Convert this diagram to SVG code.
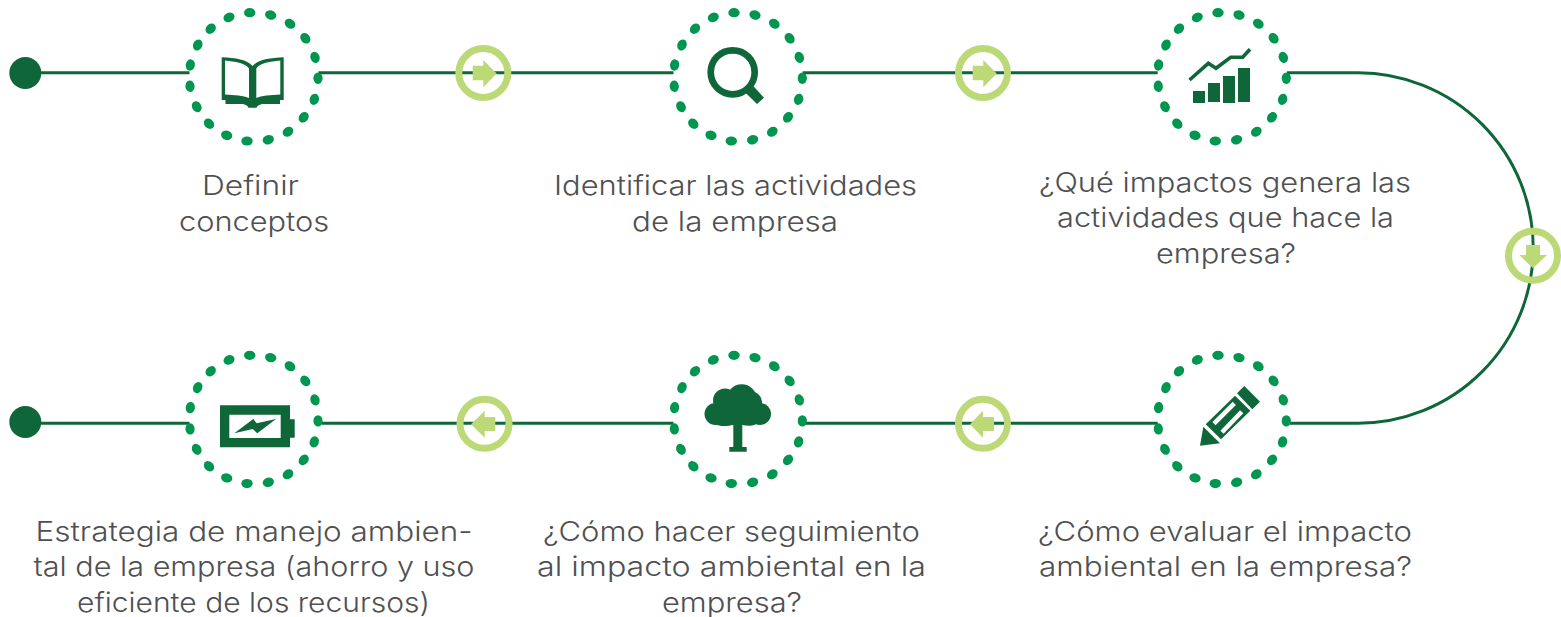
<svg xmlns="http://www.w3.org/2000/svg" width="1561" height="617" viewBox="0 0 1561 617">
<style>
.line{fill:none;stroke:#0f6639;stroke-width:3}
.ring{fill:none;stroke:#bcd977;stroke-width:7}
.arrow{fill:#bcd977}
.dark{fill:#0f6639}
.dot{fill:#009650}
.t{font-family:"Inter","Liberation Sans",sans-serif;font-weight:300;font-size:27.5px;fill:#4f5052;text-anchor:middle}
</style>
<defs>
<g id="dots">
<ellipse class="dot" cx="-4.3" cy="-64.3" rx="5.7" ry="4.6"/>
<ellipse class="dot" cx="16.7" cy="-62" rx="5.7" ry="4.6" transform="rotate(15 16.7 -62)"/>
<ellipse class="dot" cx="36" cy="-53.3" rx="5.7" ry="4.6" transform="rotate(35 36 -53.3)"/>
<ellipse class="dot" cx="51.3" cy="-38.7" rx="5.7" ry="4.6" transform="rotate(50 51.3 -38.7)"/>
<ellipse class="dot" cx="61" cy="-19.7" rx="5.7" ry="4.6" transform="rotate(70 61 -19.7)"/>
<ellipse class="dot" cx="64" cy="1.3" rx="5.7" ry="4.6" transform="rotate(90 64 1.3)"/>
<ellipse class="dot" cx="60.3" cy="22.3" rx="5.7" ry="4.6" transform="rotate(107 60.3 22.3)"/>
<ellipse class="dot" cx="49.7" cy="40.3" rx="5.7" ry="4.6" transform="rotate(130 49.7 40.3)"/>
<ellipse class="dot" cx="34" cy="54.7" rx="5.7" ry="4.6" transform="rotate(145 34 54.7)"/>
<ellipse class="dot" cx="14.3" cy="62.7" rx="5.7" ry="4.6" transform="rotate(165 14.3 62.7)"/>
<ellipse class="dot" cx="-7" cy="64" rx="5.7" ry="4.6"/>
<ellipse class="dot" cx="-27.3" cy="58.3" rx="5.7" ry="4.6" transform="rotate(15 -27.3 58.3)"/>
<ellipse class="dot" cx="-45" cy="46.7" rx="5.7" ry="4.6" transform="rotate(45 -45 46.7)"/>
<ellipse class="dot" cx="-57.3" cy="29.7" rx="5.7" ry="4.6" transform="rotate(60 -57.3 29.7)"/>
<ellipse class="dot" cx="-64" cy="9.3" rx="5.7" ry="4.6" transform="rotate(85 -64 9.3)"/>
<ellipse class="dot" cx="-63.7" cy="-12" rx="5.7" ry="4.6" transform="rotate(100 -63.7 -12)"/>
<ellipse class="dot" cx="-56.3" cy="-32" rx="5.7" ry="4.6" transform="rotate(115 -56.3 -32)"/>
<ellipse class="dot" cx="-43.3" cy="-48.3" rx="5.7" ry="4.6" transform="rotate(135 -43.3 -48.3)"/>
<ellipse class="dot" cx="-25" cy="-59.7" rx="5.7" ry="4.6" transform="rotate(155 -25 -59.7)"/>
</g>
</defs>
<g id="connectors">
<path class="line" d="M40 72.7H189.5M318.5 72.7H673.5M802.7 72.7H1157.7M1287 72.7H1358A175.3 175.3 0 0 1 1358 423.3H1290M1157.7 423.3H804M673.5 423.3H321.5M189.5 423.3H40"/>
<g id="arrow-1"><circle class="ring" cx="483.3" cy="73" r="24.5"/><path class="arrow" d="M472.7 65.7H483.3V60L496.7 73.5L483.3 87.3V80.3H472.7Z"/></g>
<g id="arrow-2"><circle class="ring" cx="983" cy="73" r="24.5"/><path class="arrow" d="M972.7 65.7H983.3V60L996.7 73.5L983.3 87.3V80.3H972.7Z"/></g>
<g id="arrow-3"><circle class="ring" cx="1533" cy="255.7" r="24.5"/><path class="arrow" d="M1526 245H1540V255H1547L1533 268.3L1519.3 255H1526Z"/></g>
<g id="arrow-4"><circle class="ring" cx="983" cy="423.8" r="24.5"/><path class="arrow" d="M994 417H983V410.7L970 424.2L983 437.7V431H994Z"/></g>
<g id="arrow-5"><circle class="ring" cx="484.5" cy="423.8" r="24.5"/><path class="arrow" d="M495.3 417H484.7V410.7L471 424.2L484.7 437.7V431H495.3Z"/></g>
</g>
<g id="start-top"><circle class="dark" cx="25.3" cy="73" r="16"/></g>
<g id="start-bottom"><circle class="dark" cx="25.3" cy="422" r="16"/></g>
<g id="node-1">
<use href="#dots" transform="translate(254 77)"/>
<path class="dark" d="M221.7 57.3C236 58 247 59.5 252.5 66C258 59.5 270 58 283.7 57.3V100H280V104H262C259 105 257 106 256.5 107.7H248.5C248 106 246 105 243 104H225.5V100H221.7ZM225 60.5V94.5C234 95 244 95.5 249 98V68.5C245 63 235 61.5 225 60.5ZM280.3 60.5C270 61.5 260 63 256.3 68.5V98C261 95.5 271 95 280.3 94.5Z" fill-rule="evenodd"/>
<text class="t" x="250.5" y="195" textLength="97" lengthAdjust="spacingAndGlyphs">Definir</text>
<text class="t" x="254" y="231" textLength="150" lengthAdjust="spacingAndGlyphs">conceptos</text>
</g>
<g id="node-2">
<use href="#dots" transform="translate(738.3 77)"/>
<circle cx="732.7" cy="72.3" r="22" fill="none" stroke="#0f6639" stroke-width="6.7"/>
<path class="dark" d="M753.3 86L764 97.7L757 104L746 93.3Z"/>
<text class="t" x="735.5" y="195" textLength="363" lengthAdjust="spacingAndGlyphs">Identificar las actividades</text>
<text class="t" x="735" y="231" textLength="206" lengthAdjust="spacingAndGlyphs">de la empresa</text>
</g>
<g id="node-3">
<use href="#dots" transform="translate(1222.3 77)"/>
<path d="M1189.5 80L1208.3 63.3L1216 68.3L1230.7 57.3H1242.7L1250 49.3" fill="none" stroke="#0f6639" stroke-width="3.6"/>
<path class="dark" d="M1193 91H1205V103H1193ZM1208 83H1220V102H1208ZM1223 76H1235V103H1223ZM1238 68H1250V102H1238Z"/>
<text class="t" x="1225" y="192" textLength="372" lengthAdjust="spacingAndGlyphs">¿Qué impactos genera las</text>
<text class="t" x="1225.5" y="227" textLength="337" lengthAdjust="spacingAndGlyphs">actividades que hace la</text>
<text class="t" x="1226" y="263" textLength="140" lengthAdjust="spacingAndGlyphs">empresa?</text>
</g>
<g id="node-4">
<use href="#dots" transform="translate(1222.3 419.6)"/>
<path class="dark" d="M1200 445.7L1203.3 426.7L1220 443.3ZM1237 393.3L1244.3 386L1260 401.7L1252.3 409.3ZM1205.7 424.3L1235 395.7L1250.3 410.7L1221 439.3Z"/>
<path d="M1214 423.7L1234.3 403.3M1222 432.3L1241.7 411.7" fill="none" stroke="#fff" stroke-width="4.5"/>
<text class="t" x="1225" y="541" textLength="374" lengthAdjust="spacingAndGlyphs">¿Cómo evaluar el impacto</text>
<text class="t" x="1225.5" y="576" textLength="373" lengthAdjust="spacingAndGlyphs">ambiental en la empresa?</text>
</g>
<g id="node-5">
<use href="#dots" transform="translate(738.3 419.6)"/>
<circle class="dark" cx="715.5" cy="414" r="11"/>
<circle class="dark" cx="760" cy="414" r="11"/>
<circle class="dark" cx="725" cy="400.5" r="12"/>
<circle class="dark" cx="741.7" cy="399.5" r="15.2"/>
<circle class="dark" cx="750" cy="403" r="12"/>
<path class="dark" d="M715 405H760V420.5C755 427 748 426 742.3 425V447H746.7V451.7H729.3V447H733.3V425C728 426 720 427 715 424Z"/>
<text class="t" x="731.5" y="541" textLength="377" lengthAdjust="spacingAndGlyphs">¿Cómo hacer seguimiento</text>
<text class="t" x="731.5" y="576" textLength="389" lengthAdjust="spacingAndGlyphs">al impacto ambiental en la</text>
<text class="t" x="732" y="612" textLength="140" lengthAdjust="spacingAndGlyphs">empresa?</text>
</g>
<g id="node-6">
<use href="#dots" transform="translate(254 419.6)"/>
<path class="dark" d="M220 405.3H290V419.3H294.7V437.7H290V447.3H220ZM229.3 414.7V438H280.7V414.7Z" fill-rule="evenodd"/>
<path class="dark" d="M234.3 433.3L253.3 419L256.7 423.3L276 419L257.3 433.3L252.7 429Z"/>
<text class="t" x="254" y="541" textLength="437" lengthAdjust="spacingAndGlyphs">Estrategia de manejo ambien-</text>
<text class="t" x="254" y="576" textLength="441" lengthAdjust="spacingAndGlyphs">tal de la empresa (ahorro y uso</text>
<text class="t" x="253.5" y="612" textLength="353" lengthAdjust="spacingAndGlyphs">eficiente de los recursos)</text>
</g>
</svg>
